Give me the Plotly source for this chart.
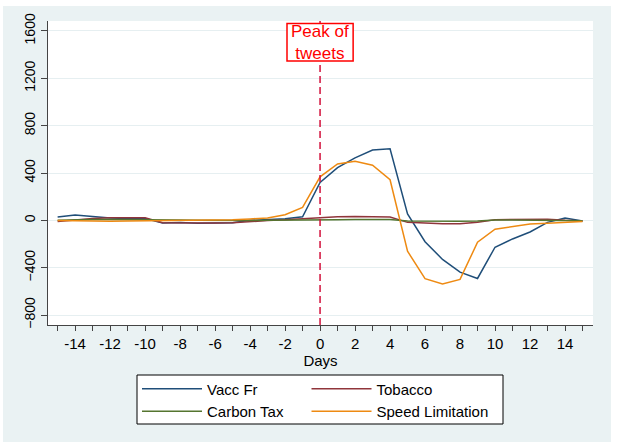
import plotly.graph_objects as go

# ---------------- data ----------------
days = list(range(-15, 16))
vacc_fr = [28, 45, 32, 20, 15, 15, -22, -18, -25, -22, -20, 0, 5, 14, 30,
           320, 445, 528, 594, 605, 55, -180, -330, -438, -491,
           -227, -157, -98, -17, 20, -5]
tobacco = [-10, 5, 15, 22, 20, 22, -20, -22, -25, -22, -20, -8, -2, 5, 12,
           25, 30, 32, 32, 28, -17, -25, -28, -28, -15,
           5, 5, 8, 10, 0, -5]
carbon_tax = [0, 5, 8, 8, 5, 5, 5, 2, 0, -2, -3, -2, 0, 0, 2,
              5, 6, 8, 8, 8, -5, -8, -8, -8, -6,
              2, 3, 3, 2, 0, -3]
speed_limitation = [-2, -5, -8, -8, -6, -5, 2, 0, 3, 3, 5, 12, 20, 48, 110,
                    368, 476, 500, 466, 343, -261, -492, -538, -499, -185,
                    -75, -50, -30, -25, -17, -10]

series_names = ["Vacc Fr", "Tobacco", "Carbon Tax", "Speed Limitation"]
series_values = [vacc_fr, tobacco, carbon_tax, speed_limitation]
series_colors = ["#1f4e79", "#90353b", "#55752f", "#ee8a12"]
# legend column of each series (two columns, like the reference)
series_legend = ["legend", "legend2", "legend", "legend2"]

x_tick_vals = list(range(-15, 16))
x_tick_text = [str(v) if v % 2 == 0 else "" for v in x_tick_vals]
y_tick_vals = [-800, -400, 0, 400, 800, 1200, 1600]
peak_day = 0
peak_label = "Peak of<br>tweets"

# ---------------- layout geometry ----------------
W, H = 620, 442
ML, MR, MT, MB = 48, 27, 21, 117
PW, PH = W - ML - MR, H - MT - MB


def px2x(px):
    return (px - ML) / PW


def py2y(py):
    return (H - MB - py) / PH


FONT = "Arial, Liberation Sans, sans-serif"
BG = "#eaf2f3"

fig = go.Figure()
for name, vals, col, leg in zip(series_names, series_values, series_colors, series_legend):
    fig.add_trace(go.Scatter(x=days, y=vals, mode="lines", name=name,
                             line=dict(color=col, width=1.5), legend=leg))

shapes = [
    # outer light background (with thin white frame)
    dict(type="rect", xref="paper", yref="paper", x0=px2x(3), x1=px2x(611),
         y0=py2y(442), y1=py2y(6), fillcolor=BG, line=dict(width=0), layer="below"),
    # white plot region
    dict(type="rect", xref="paper", yref="paper", x0=0, x1=1, y0=0, y1=1,
         fillcolor="white", line=dict(width=0), layer="below"),
    # dashed vertical line at the peak
    dict(type="line", xref="x", yref="paper", x0=peak_day, x1=peak_day, y0=0, y1=1,
         line=dict(color="#d2103c", width=1.5, dash="7px,4px"), layer="above"),
    # label box
    dict(type="rect", xref="x", yref="paper", x0=peak_day - 1.89, x1=peak_day + 1.89,
         y0=py2y(61), y1=py2y(23.5), fillcolor="white",
         line=dict(color="#ff0000", width=1.5), layer="above"),
    # legend frame
    dict(type="rect", xref="paper", yref="paper", x0=px2x(137), x1=px2x(503),
         y0=py2y(424), y1=py2y(375), fillcolor="white",
         line=dict(color="black", width=1), layer="above"),
]

annotations = [
    dict(x=peak_day, xref="x", y=py2y(42.5), yref="paper", text=peak_label,
         showarrow=False, xanchor="center", yanchor="middle", align="center",
         font=dict(family=FONT, size=17, color="#ff0000")),
]

legend_common = dict(orientation="v", xanchor="left", yanchor="middle",
                     y=py2y(400), bgcolor="rgba(0,0,0,0)", borderwidth=0,
                     font=dict(family=FONT, size=15, color="black"),
                     itemwidth=60, tracegroupgap=0)

fig.update_layout(
    width=W, height=H,
    margin=dict(l=ML, r=MR, t=MT, b=MB, pad=0),
    paper_bgcolor="white", plot_bgcolor="white",
    font=dict(family=FONT, color="black"),
    shapes=shapes, annotations=annotations,
    legend=dict(x=px2x(137), **legend_common),
    legend2=dict(x=px2x(306.5), **legend_common),
    xaxis=dict(range=[-15.55, 15.6], tickmode="array", tickvals=x_tick_vals,
               ticktext=x_tick_text, ticks="outside", ticklen=5, tickcolor="#444",
               showline=True, linecolor="#444", linewidth=1, showgrid=False,
               zeroline=False, tickfont=dict(size=15, color="black"),
               title=dict(text="Days", font=dict(size=15, color="black"), standoff=2)),
    yaxis=dict(range=[-884, 1684], tickmode="array", tickvals=y_tick_vals,
               ticks="outside", ticklen=6, tickcolor="#444", tickangle=-90,
               showline=True, linecolor="#444", linewidth=1, showgrid=True,
               gridcolor="#e6eff1", gridwidth=1, zeroline=False,
               tickfont=dict(size=14, color="black")),
)

fig.write_html("out.html")
